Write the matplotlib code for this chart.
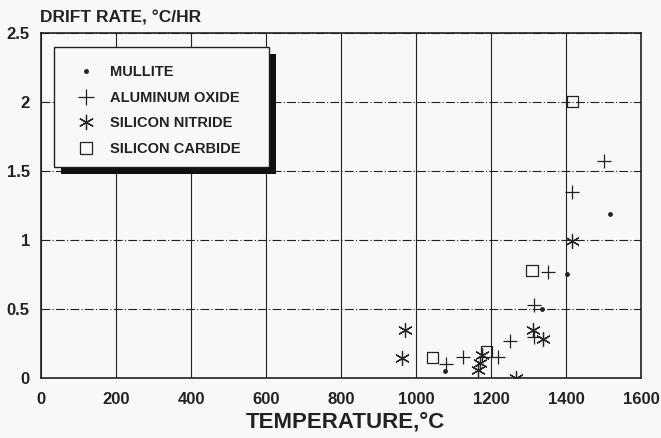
import matplotlib.pyplot as plt
from matplotlib.patches import Rectangle
from matplotlib.lines import Line2D

plt.rcParams['font.family'] = ['Liberation Sans', 'DejaVu Sans']
plt.rcParams['font.weight'] = 'bold'

# data
mullite_t = [1077, 1336, 1403, 1517]
mullite_r = [0.05, 0.50, 0.75, 1.19]

alumina_t = [1080, 1125, 1219, 1251, 1315, 1315, 1352, 1416, 1501]
alumina_r = [0.10, 0.15, 0.15, 0.27, 0.30, 0.53, 0.77, 1.35, 1.57]

nitride_t = [963, 971, 1165, 1171, 1176, 1267, 1312, 1339, 1416]
nitride_r = [0.145, 0.35, 0.06, 0.11, 0.17, 0.0, 0.35, 0.28, 0.99]

carbide_t = [1043, 1187, 1309, 1416]
carbide_r = [0.15, 0.19, 0.78, 2.0]

labels = ['MULLITE', 'ALUMINUM OXIDE', 'SILICON NITRIDE', 'SILICON CARBIDE']
xticks = [0, 200, 400, 600, 800, 1000, 1200, 1400, 1600]
yticks = [0, 0.5, 1, 1.5, 2, 2.5]
ytick_labels = ['0', '0.5', '1', '1.5', '2', '2.5']

ink = '#222222'
bg = '#f8f8f8'
fig = plt.figure(figsize=(6.61, 4.38), dpi=100, facecolor=bg)
ax = fig.add_axes([0.062, 0.137, 0.908, 0.788])
ax.set_facecolor(bg)

ax.scatter(mullite_t, mullite_r, marker='o', s=6, color=ink, zorder=3)
ax.scatter(alumina_t, alumina_r, marker='+', s=100, color=ink, linewidths=0.9, zorder=3)
ax.scatter(nitride_t, nitride_r, marker=(6, 2, 0), s=100, color=ink, linewidths=0.9, zorder=3)
ax.scatter(carbide_t, carbide_r, marker='s', s=65, facecolor='none', edgecolor=ink, linewidths=0.9, zorder=3)

ax.set_xlim(0, 1600)
ax.set_ylim(0, 2.5)
ax.set_xticks(xticks)
ax.set_yticks(yticks)
ax.set_yticklabels(ytick_labels)
ax.tick_params(length=0, labelsize=12, colors=ink)
ax.tick_params(axis='x', pad=10)
ax.tick_params(axis='y', pad=8)
for lab in ax.get_xticklabels() + ax.get_yticklabels():
    lab.set_fontweight('bold')
ax.grid(axis='x', color=ink, linewidth=0.8, linestyle='-')
ax.grid(axis='y', color=ink, linewidth=0.8, linestyle='-.', dashes=(8, 2, 1, 2))
ax.set_axisbelow(True)
for s in ax.spines.values():
    s.set_color(ink)
    s.set_linewidth(1.2)

# legend box with heavy shadow
ax.add_patch(Rectangle((0.034, 0.592), 0.358, 0.347, transform=ax.transAxes,
                       facecolor='#111111', edgecolor='none', zorder=4))
ax.add_patch(Rectangle((0.022, 0.612), 0.358, 0.347, transform=ax.transAxes,
                       facecolor=bg, edgecolor=ink, linewidth=1.0, zorder=5))
handles = [
    Line2D([], [], marker='o', markersize=2.5, color=ink, linestyle='none'),
    Line2D([], [], marker='+', markersize=11, markeredgewidth=0.9, color=ink, linestyle='none'),
    Line2D([], [], marker=(6, 2, 0), markersize=11, markeredgewidth=0.9, color=ink, linestyle='none'),
    Line2D([], [], marker='s', markersize=8, markerfacecolor='none', markeredgecolor=ink,
           markeredgewidth=0.9, linestyle='none'),
]
leg = ax.legend(handles, labels, loc='upper left', bbox_to_anchor=(0.035, 0.945),
                frameon=False, prop={'size': 10.5, 'weight': 'bold'},
                handletextpad=0.9, labelspacing=0.8, handlelength=1.5)
leg.set_zorder(6)
for t in leg.get_texts():
    t.set_color(ink)

fig.text(0.06, 0.958, 'DRIFT RATE, °C/HR', fontsize=12.5, fontweight='bold', color=ink,
         ha='left', va='center')
fig.text(0.523, 0.036, 'TEMPERATURE,°C', fontsize=16, fontweight='bold', color=ink,
         ha='center', va='center')

fig.savefig('out.png', dpi=100, facecolor=fig.get_facecolor())
